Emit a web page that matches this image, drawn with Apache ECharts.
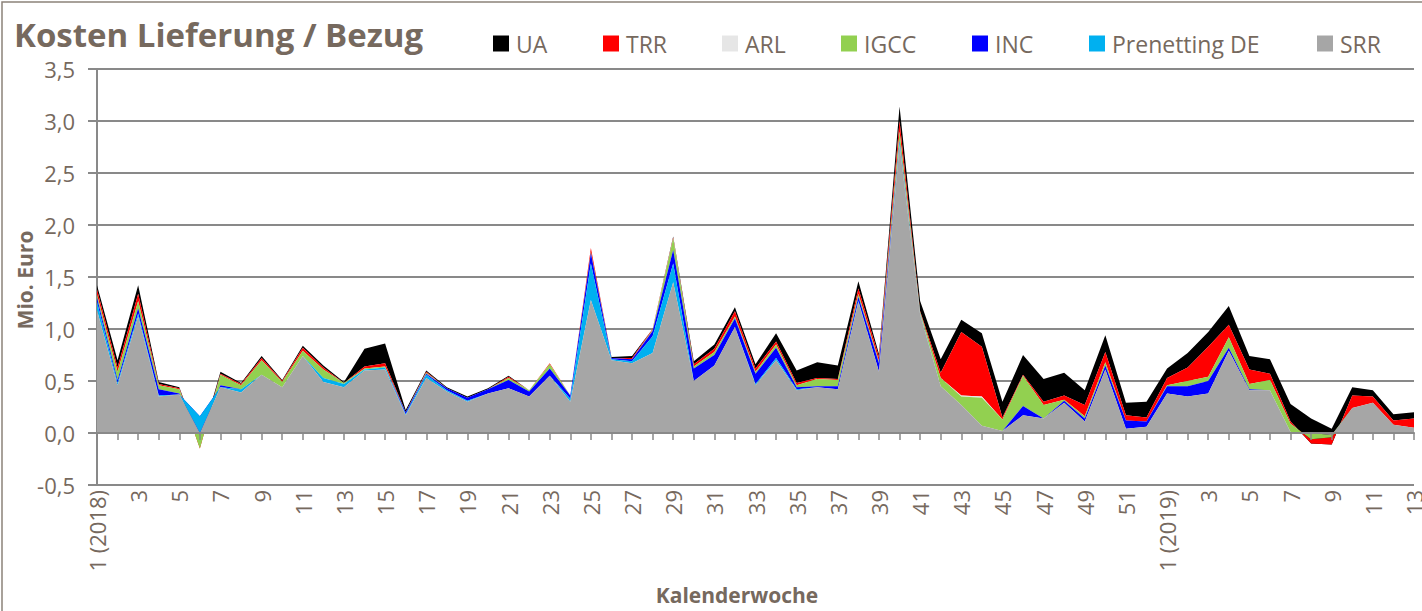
<!DOCTYPE html>
<html><head><meta charset="utf-8">
<script src="https://cdn.jsdelivr.net/npm/echarts@6/dist/echarts.min.js"></script>
<style>html,body{margin:0;padding:0;background:#fff}#c{width:1422px;height:611px}</style>
</head><body><div id="c"></div>
<script>
const categories = ["1 (2018)","2","3","4","5","6","7","8","9","10","11","12","13","14","15","16","17","18","19","20","21","22","23","24","25","26","27","28","29","30","31","32","33","34","35","36","37","38","39","40","41","42","43","44","45","46","47","48","49","50","51","52","1 (2019)","2","3","4","5","6","7","8","9","10","11","12","13"];
const yTicks = [-0.5, 0, 0.5, 1, 1.5, 2, 2.5, 3, 3.5];

const SRR = [1.18,0.46,1.12,0.35,0.37,0.00,0.44,0.39,0.56,0.44,0.74,0.49,0.44,0.60,0.61,0.17,0.53,0.40,0.30,0.38,0.43,0.35,0.55,0.30,1.28,0.70,0.67,0.77,1.45,0.50,0.65,1.02,0.46,0.70,0.41,0.44,0.42,1.26,0.59,2.77,1.14,0.45,0.27,0.07,0.02,0.17,0.14,0.29,0.11,0.61,0.04,0.06,0.38,0.35,0.38,0.79,0.41,0.41,0.01,0.00,-0.02,0.24,0.29,0.08,0.05];
const PRENETTING = [0.08,0.02,0.03,0.01,0.00,0.16,0.00,0.03,0.00,0.00,0.00,0.04,0.03,0.01,0.02,0.01,0.03,0.01,0.01,0.00,0.00,0.00,0.00,0.03,0.35,0.01,0.02,0.16,0.18,0.00,0.00,0.00,0.01,0.02,0.01,0.00,0.00,0.01,0.00,0.02,0.01,0.00,0.00,0.00,0.00,0.00,0.00,0.00,0.00,0.00,0.00,0.00,0.00,0.00,0.00,0.00,0.00,0.00,0.00,0.00,0.00,0.00,0.00,0.00,0.00];
const INC = [0.04,0.03,0.05,0.06,0.01,-0.18,0.02,0.00,0.00,0.00,0.00,0.00,0.00,0.00,0.00,0.02,0.01,0.02,0.03,0.04,0.08,0.05,0.07,0.03,0.10,0.01,0.02,0.05,0.13,0.12,0.10,0.08,0.10,0.10,0.02,0.01,0.03,0.04,0.08,0.02,0.00,0.00,0.00,0.00,0.00,0.09,0.00,0.02,0.03,0.04,0.08,0.05,0.07,0.10,0.12,0.03,0.01,0.00,0.00,0.00,0.00,0.00,0.00,0.00,0.00];
const IGCC = [0.03,0.08,0.07,0.04,0.04,-0.13,0.10,0.04,0.14,0.05,0.05,0.08,0.01,0.01,0.01,0.00,0.01,0.00,0.00,0.00,0.02,0.01,0.04,0.00,0.01,0.00,0.00,0.01,0.11,0.02,0.03,0.02,0.02,0.03,0.02,0.07,0.06,0.03,0.02,0.09,0.01,0.08,0.08,0.27,0.11,0.29,0.13,0.01,0.02,0.03,0.00,0.00,0.01,0.05,0.04,0.10,0.05,0.10,0.08,-0.06,-0.02,0.00,0.00,0.00,0.00];
const ARL = [0,0,0,0,0,0,0,0,0,0,0,0,0,0,0,0,0,0,0,0,0,0,0,0,0,0,0,0,0,0,0,0,0,0,0,0,0,0,0,0,0,0,0.01,0.01,0,0,0,0,0,0,0,0,0,0,0,0,0,0,0,0,0,0,0,0,0];
const TRR = [0.05,0.04,0.07,0.01,0.01,0.02,0.01,0.01,0.02,0.01,0.03,0.02,0.00,0.02,0.03,0.00,0.01,0.00,0.00,0.00,0.01,0.00,0.01,0.00,0.04,0.00,0.01,0.01,0.01,0.02,0.03,0.05,0.03,0.03,0.02,0.01,0.01,0.05,0.04,0.10,0.01,0.05,0.61,0.48,0.02,0.01,0.03,0.04,0.11,0.10,0.05,0.04,0.07,0.13,0.29,0.12,0.14,0.06,0.02,-0.04,-0.07,0.12,0.06,0.04,0.09];
const UA = [0.04,0.07,0.08,0.02,0.01,0.03,0.02,0.01,0.02,0.01,0.02,0.02,0.01,0.17,0.19,0.02,0.01,0.01,0.01,0.01,0.01,0.00,0.00,0.00,0.00,0.01,0.02,0.00,0.01,0.03,0.04,0.04,0.04,0.08,0.12,0.15,0.13,0.07,0.03,0.14,0.10,0.13,0.12,0.13,0.15,0.19,0.22,0.22,0.14,0.16,0.12,0.15,0.09,0.14,0.14,0.18,0.13,0.14,0.17,0.24,0.15,0.08,0.06,0.06,0.06];

const TEXT = '#76695E';
const GRID = '#898989';
const FONT = '"Open Sans", sans-serif';

// stack order bottom -> top; earlier series drawn in front (as in the original)
const stackDef = [
  ['SRR', SRR, '#A6A6A6'],
  ['Prenetting DE', PRENETTING, '#00B0F0'],
  ['INC', INC, '#0000FF'],
  ['IGCC', IGCC, '#92D050'],
  ['ARL', ARL, '#E6E6E6'],
  ['TRR', TRR, '#FF0000'],
  ['UA', UA, '#000000']
];
const legendPos = [['UA',493],['TRR',603],['ARL',722],['IGCC',841],['INC',972],['Prenetting DE',1089],['SRR',1317]];

const series = stackDef.map((d, i) => ({
  name: d[0], type: 'line', data: d[1], stack: 'total', stackStrategy: 'all',
  z: 10 - i, symbol: 'none', showSymbol: false, smooth: false,
  lineStyle: { width: 0, color: d[2] }, itemStyle: { color: d[2] },
  areaStyle: { color: d[2], opacity: 1 }, emphasis: { disabled: true }
}));

const chart = echarts.init(document.getElementById('c'), null, { renderer: 'svg' });
chart.setOption({
  animation: false,
  backgroundColor: '#fff',
  title: { text: 'Kosten Lieferung / Bezug', left: 9, top: 13,
    textStyle: { fontFamily: FONT, fontSize: 33, fontWeight: 'bold', color: TEXT } },
  legend: legendPos.map(p => ({
    data: [p[0]], left: p[1], top: 32, icon: 'rect', itemWidth: 16, itemHeight: 16,
    padding: 0, selectedMode: false,
    textStyle: { fontFamily: FONT, fontSize: 23, color: TEXT, padding: [0, 0, 0, 2] }
  })),
  grid: { left: 97, right: 8, top: 69, bottom: 126, outerBoundsMode: 'none' },
  xAxis: [
    { type: 'category', data: categories, boundaryGap: false, position: 'bottom', z: 20,
      axisLine: { onZero: true, lineStyle: { color: GRID, width: 2 } },
      axisTick: { show: true, interval: 0, length: 7, lineStyle: { color: GRID, width: 1.5 } },
      axisLabel: { show: false }, splitLine: { show: false } },
    { type: 'category', data: categories, boundaryGap: false, position: 'bottom',
      axisLine: { show: false, onZero: false }, axisTick: { show: false },
      axisLabel: { interval: 1, rotate: 90, margin: 5, fontFamily: FONT, fontSize: 22, color: TEXT },
      splitLine: { show: false } }
  ],
  yAxis: { type: 'value', min: yTicks[0], max: yTicks[yTicks.length - 1], interval: 0.5,
    axisLine: { show: true, lineStyle: { color: GRID, width: 2 } },
    axisTick: { show: true, length: 9, lineStyle: { color: GRID, width: 2 } },
    axisLabel: { margin: 22, fontFamily: FONT, fontSize: 22, color: TEXT,
      formatter: v => v.toFixed(1).replace('.', ',') },
    splitLine: { show: true, lineStyle: { color: GRID, width: 2 } } },
  graphic: [
    { type: 'rect', silent: true, shape: { x: 2, y: 2, width: 1440, height: 640 },
      style: { fill: 'none', stroke: '#8C8279', lineWidth: 1.5 } },
    { type: 'text', silent: true, x: 25, y: 280, rotation: Math.PI / 2,
      style: { text: 'Mio. Euro', fontFamily: FONT, fontSize: 21, fontWeight: 'bold', fill: TEXT,
        align: 'center', verticalAlign: 'middle', textAlign: 'center', textVerticalAlign: 'middle' } },
    { type: 'text', silent: true, x: 737, y: 595,
      style: { text: 'Kalenderwoche', fontFamily: FONT, fontSize: 21, fontWeight: 'bold', fill: TEXT,
        align: 'center', verticalAlign: 'middle', textAlign: 'center', textVerticalAlign: 'middle' } }
  ],
  series: series
});
</script></body></html>
